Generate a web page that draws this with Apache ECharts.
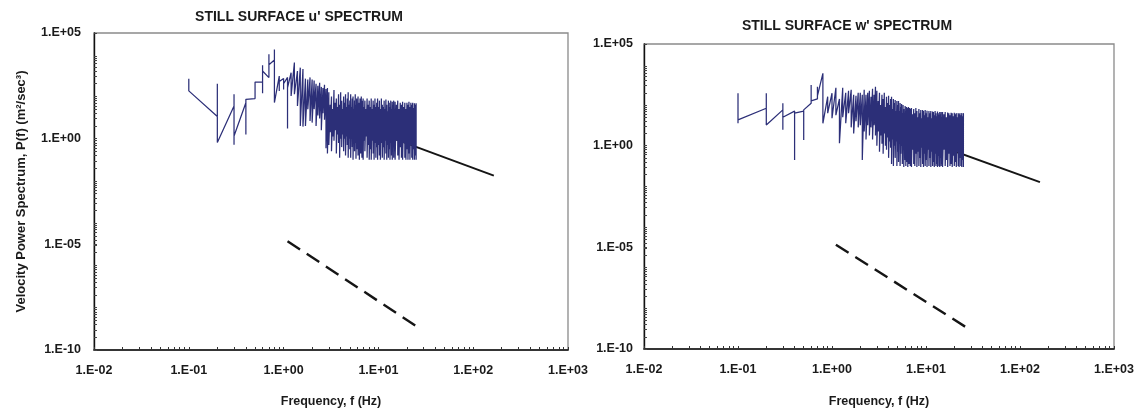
<!DOCTYPE html>
<html><head><meta charset="utf-8">
<script src="https://cdn.jsdelivr.net/npm/echarts@6/dist/echarts.min.js"></script>
<style>html,body{margin:0;padding:0;background:#fff}#c{width:1142px;height:413px}</style>
</head><body><div id="c"></div>
<script>
// ---------------- data ----------------
const titles = ["STILL SURFACE u' SPECTRUM", "STILL SURFACE w' SPECTRUM"];
const xAxisName = "Frequency, f (Hz)";
const yAxisName = "Velocity Power Spectrum, P(f) (m\u00B2/sec\u00B3)";
const xTickExponents = [-2, -1, 0, 1, 2, 3];
const yTickExponents = [-10, -5, 0, 5];

// frequency bins (Hz)
const freqHz = [
  0.1,0.2,0.3,0.4,0.5,0.6,0.7,0.8,0.9,1.0,1.1,1.2,1.3,1.4,1.5,1.6,1.7,1.8,1.9,2.0,
  2.1,2.2,2.3,2.4,2.5,2.6,2.7,2.8,2.9,
  3.0,3.1,3.2,3.3,3.4,3.5,3.6,3.7,3.8,3.9,4.0,4.1,4.2,4.3,4.4,4.5,4.6,4.7,4.8,4.9,
  5.0,5.1,5.2,5.3,5.4,5.5,5.6,5.7,5.8,5.9,6.0,6.1,6.2,6.3,6.4,6.5,6.6,6.7,6.8,6.9,7.0,
  7.2,7.4,7.6,7.8,8.0,8.2,8.4,8.6,8.8,9.0,9.2,9.4,9.6,9.8,10.0,
  10.25,10.5,10.75,11.0,11.25,11.5,11.75,12.0,12.25,12.5,12.75,13.0,13.25,13.5,13.75,14.0,14.25,14.5,14.75,15.0,
  15.5,16,16.5,17,17.5,18,18.5,19,19.5,20,20.5,21,21.5,22,22.5,23,23.5,24,24.5,25
];

// u' spectrum: log10 P(f) values visited at each frequency bin, in drawing order
const uLog10P = [
  [2.84,2.26],[1.05,2.6,-0.18],[1.55,2.1,-0.29,0.13],[1.7,0.2,1.86],[1.9,2.68],
  [2.68,3.47,2.15,3.2],[2.89,3.99,3.5],[3.72,4.22,1.71],[2.96,2.25,2.7],[2.85,2.33,2.6],
  [2.9,0.48,2.4],[3.12,2.02],[3.6,2.1],[3.2,1.55],[3.36,0.6],[3.3,0.57],[2.84,0.6],[2.8,1.39],
  [2.9,0.84],[2.8,0.76],[2.75,1.4],[2.6,0.6],[2.5,1.1],[2.65,0.95],[2.45,0.4],[2.4,1.2],
  [2.55,0.9],[2.35,-0.45],[2.4,-0.7],
  [2.2,-0.3],[1.6,0.3],[2.0,-0.6],[1.4,0.1],[2.3,-0.1],[1.7,0.4],[1.9,-0.7],[1.5,0.2],[2.1,-0.2],[1.6,-0.9],
  [2.2,0.0],[1.8,-0.4],[1.4,0.2],[2.0,-0.6],[1.7,0.0],[2.1,-0.8],[1.5,0.1],[1.9,-0.3],[2.2,-0.9],[1.6,0.0],
  [1.8,-0.5],[2.1,-0.9],[1.5,0.0],[1.9,-0.4],[2.0,-1.0],[1.4,0.1],[1.8,-0.6],[2.1,-0.2],[1.6,-0.95],[1.9,0.0],
  [1.4,-0.5],[2.0,-0.8],[1.7,0.0],[1.5,-1.0],[1.9,-0.3],[1.6,-0.7],[2.0,0.0],[1.4,-0.9],[1.8,-0.4],[1.9,-1.0],
  [1.5,-0.1],
  [1.8,-0.6],[1.4,0.1],[1.9,-0.9],[1.6,-0.3],[1.8,-1.0],[1.5,-0.5],[1.9,-1.0],[1.4,-0.1],[1.8,-0.7],[1.6,-1.0],
  [1.9,-0.2],[1.5,-0.9],[1.7,-0.4],[1.9,-1.0],[1.5,-0.3],
  [1.8,-0.8],[1.4,-1.0],[1.9,-0.2],[1.6,-0.9],[1.5,-0.4],[1.8,-1.0],[1.4,-0.1],[1.85,-0.7],[1.6,-1.0],[1.3,-0.3],
  [1.8,-0.9],[1.7,-0.5],[1.5,-1.0],[1.8,-0.2],[1.4,-0.8],[1.75,-1.0],[1.6,-0.4],[1.8,-0.9],[1.4,-0.6],[1.75,-1.0],
  [1.6,-0.1],[1.8,-0.8],[1.4,-1.0],[1.7,-0.4],[1.6,-0.9],[1.75,-1.0],[1.5,-0.2],[1.7,-0.9],[1.4,-1.0],[1.7,-0.5],
  [1.6,-1.0],[1.75,-0.7],[1.5,-1.0],[1.7,-0.3],[1.6,-0.9],[1.7,-1.0],[1.45,-0.5],[1.68,-1.0],[1.6,-0.8],[1.68,-1.0]
];

// w' spectrum: log10 P(f) values visited at each frequency bin, in drawing order
const wLog10P = [
  [2.58,1.1,1.27],[1.84,2.58,1.02],[1.76,2.09,0.78,1.4],[1.7,-0.7,1.6],[1.7,0.28,1.76],
  [2.09,2.98,2.2],[2.3,2.9,2.45],[3.56,1.1],[2.41,1.6],[2.58,1.35],[2.85,1.5],[2.3,0.12],
  [2.85,1.4],[2.6,1.1],[2.7,1.6],[2.75,0.9],[2.5,0.6],[2.45,1.2],[2.6,0.9],[2.6,1.0],[2.5,-0.7],
  [2.75,0.7],[2.5,0.3],[2.6,1.0],[2.7,0.5],[2.4,0.9],[2.8,0.3],[2.5,1.0],[2.9,0.5],
  [2.7,0.0],[2.2,0.7],[2.6,-0.3],[2.0,0.5],[2.5,0.1],[2.3,-0.4],[2.6,0.6],[1.9,0.0],[2.4,-0.2],[2.1,0.4],
  [2.45,-0.6],[2.0,0.2],[2.3,-0.1],[2.4,-0.9],[1.8,0.3],[2.3,-1.0],[2.1,0.0],[2.25,-0.6],[1.7,0.2],[2.2,-1.0],
  [2.0,-0.3],[2.2,-0.8],[1.7,0.1],[2.1,-1.0],[1.9,-0.4],[2.05,0.0],[1.6,-0.9],[2.0,-0.2],[1.8,-1.05],[1.5,0.0],
  [1.95,-0.7],[1.7,-1.0],[1.9,-0.1],[1.5,-0.8],[1.85,-1.05],[1.9,-0.3],[1.6,-0.9],[1.85,0.0],[1.4,-1.0],[1.8,-0.5],
  [1.85,-1.05],
  [1.55,-0.2],[1.8,-0.9],[1.6,-1.0],[1.85,-0.4],[1.7,-1.05],[1.4,-0.3],[1.8,-1.0],[1.6,-0.6],[1.75,-1.05],[1.35,-0.1],
  [1.75,-0.9],[1.7,-1.05],[1.5,-0.4],[1.75,-1.0],[1.6,-0.7],
  [1.72,-1.05],[1.4,-0.2],[1.7,-1.0],[1.6,-0.6],[1.7,-1.05],[1.35,-0.3],[1.68,-1.0],[1.65,-0.8],[1.5,-1.05],[1.7,-0.4],
  [1.6,-1.0],[1.45,-0.9],[1.68,-1.05],[1.6,-0.5],[1.5,-1.0],[1.66,-1.05],[1.55,-0.6],[1.65,-1.0],[1.4,-0.9],[1.66,-1.05],
  [1.55,-0.2],[1.65,-1.0],[1.4,-0.7],[1.63,-1.05],[1.6,-0.4],[1.5,-1.0],[1.62,-0.9],[1.6,-1.05],[1.45,-0.5],[1.62,-1.0],
  [1.55,-0.8],[1.6,-1.05],[1.4,-0.3],[1.6,-1.0],[1.55,-1.05],[1.6,-0.6],[1.5,-1.0],[1.6,-1.05],[1.45,-0.7],[1.6,-1.05]
];

// reference lines: [f (Hz), P]
const uFitLine = [[3.0, 13.8], [165, 0.0178]];      // solid -5/3 line
const wFitLine = [[2.8, 14.1], [163, 0.0162]];
const uSlopeLine = [[1.1, 1.41e-5], [28.4, 9.3e-10]]; // dashed line
const wSlopeLine = [[1.1, 1.35e-5], [30.3, 8.1e-10]];

// ---------------- chart ----------------
function buildSeries(freqs, logVals) {
  const out = [];
  freqs.forEach((f, i) => logVals[i].forEach(v => out.push([f, Math.pow(10, v)])));
  return out;
}
function fmtExp(v) {
  const e = Math.round(Math.log10(v));
  return '1.E' + (e < 0 ? '-' : '+') + String(Math.abs(e)).padStart(2, '0');
}
// tick positions
const xTicks = [];
for (let i = 0; i < xTickExponents.length - 1; i++) {
  for (let k = 1; k <= 9; k++) xTicks.push(k * Math.pow(10, xTickExponents[i]));
}
xTicks.push(Math.pow(10, xTickExponents[xTickExponents.length - 1]));
const yTicks = [];
for (let b = yTickExponents[0]; b < 4; b += 2) {
  for (let k = 1; k <= 9; k++) yTicks.push(k * k * Math.pow(10, b));
}
yTickExponents.forEach(e => yTicks.push(Math.pow(10, e)));

const FONT = 'Liberation Sans';
const TXT = '#1a1a1a';
function xAxisCfg(gi, nameGap, margin) {
  return {
    type: 'log', logBase: 10, gridIndex: gi,
    min: Math.pow(10, xTickExponents[0]), max: Math.pow(10, xTickExponents[xTickExponents.length - 1]), interval: 1,
    name: xAxisName, nameLocation: 'middle', nameGap: nameGap,
    nameTextStyle: { fontFamily: FONT, fontWeight: 'bold', fontSize: 12.5, color: TXT },
    axisLine: { show: true, onZero: false, lineStyle: { color: '#111', width: 1.6 } },
    axisTick: { show: true, inside: true, length: 3, customValues: xTicks, lineStyle: { color: '#333', width: 1 } },
    minorTick: { show: false },
    axisLabel: { formatter: fmtExp, margin: margin, fontFamily: FONT, fontWeight: 'bold', fontSize: 12.5, color: TXT,
                 showMinLabel: true, showMaxLabel: true, hideOverlap: false },
    splitLine: { show: false }
  };
}
function yAxisCfg(gi, withName, margin) {
  return {
    type: 'log', logBase: 10, gridIndex: gi,
    min: Math.pow(10, yTickExponents[0]), max: Math.pow(10, yTickExponents[yTickExponents.length - 1]), interval: 5,
    name: withName ? yAxisName : '', nameLocation: 'middle', nameGap: 66, nameRotate: 90,
    nameTextStyle: { fontFamily: FONT, fontWeight: 'bold', fontSize: 13, color: TXT },
    axisLine: { show: true, onZero: false, lineStyle: { color: '#111', width: 1.4 } },
    axisTick: { show: true, inside: true, length: 3, customValues: yTicks, lineStyle: { color: '#444', width: 1 } },
    minorTick: { show: false },
    axisLabel: { formatter: fmtExp, margin: margin, fontFamily: FONT, fontWeight: 'bold', fontSize: 12.5, color: TXT,
                 showMinLabel: true, showMaxLabel: true, hideOverlap: false },
    splitLine: { show: false }
  };
}
const titleStyle = { fontFamily: FONT, fontWeight: 'bold', fontSize: 14, color: TXT };
const BLUE = '#2c2f78';
function specSeries(i, data) {
  return { type: 'line', xAxisIndex: i, yAxisIndex: i, data: data, symbol: 'none', showSymbol: false,
           lineStyle: { color: BLUE, width: 1.25 }, z: 4, silent: true };
}
function fitSeries(i, data) {
  return { type: 'line', xAxisIndex: i, yAxisIndex: i, data: data, symbol: 'none', showSymbol: false,
           lineStyle: { color: '#151515', width: 2 }, z: 3, silent: true };
}
function slopeSeries(i, data) {
  return { type: 'line', xAxisIndex: i, yAxisIndex: i, data: data, symbol: 'none', showSymbol: false,
           lineStyle: { color: '#151515', width: 2.4, type: [15, 8] }, z: 3, silent: true };
}

const chart = echarts.init(document.getElementById('c'), null, { renderer: 'canvas' });
chart.setOption({
  animation: false,
  backgroundColor: '#fff',
  title: [
    { text: titles[0], left: 299, top: 10, textAlign: 'center', padding: 0, textStyle: titleStyle },
    { text: titles[1], left: 847, top: 19, textAlign: 'center', padding: 0, textStyle: titleStyle }
  ],
  grid: [
    { left: 94, top: 33, width: 474, height: 318, show: true, borderColor: '#8a8a8a', borderWidth: 1.3, backgroundColor: 'transparent' },
    { left: 644, top: 44, width: 470, height: 305, show: true, borderColor: '#8a8a8a', borderWidth: 1.3, backgroundColor: 'transparent' }
  ],
  xAxis: [xAxisCfg(0, 45, 14), xAxisCfg(1, 46, 14)],
  yAxis: [yAxisCfg(0, true, 13), yAxisCfg(1, false, 11)],
  series: [
    fitSeries(0, uFitLine), slopeSeries(0, uSlopeLine), specSeries(0, buildSeries(freqHz, uLog10P)),
    fitSeries(1, wFitLine), slopeSeries(1, wSlopeLine), specSeries(1, buildSeries(freqHz, wLog10P))
  ]
});
</script>
</body></html>
